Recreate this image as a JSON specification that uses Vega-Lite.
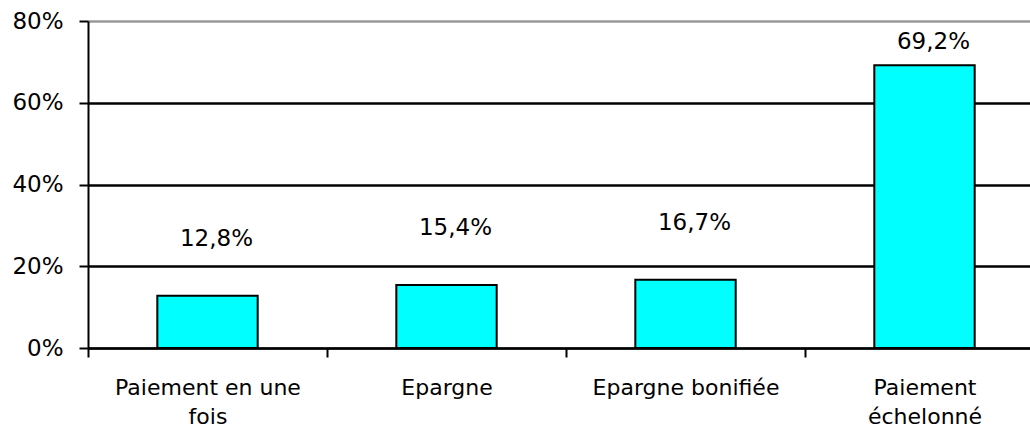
{
  "$schema": "https://vega.github.io/schema/vega-lite/v6.json",
  "autosize": "none",
  "width": 942,
  "height": 327,
  "padding": {"left": 88, "top": 21, "right": 0, "bottom": 84},
  "background": "white",
  "config": {
    "locale": {"number": {"decimal": ",", "thousands": " ", "grouping": [3], "currency": ["", " €"]}},
    "view": {"stroke": null},
    "font": "DejaVu Sans",
    "text": {"font": "DejaVu Sans"}
  },
  "data": {
    "values": [
      {"mode": "Paiement en une|fois", "value": 0.128},
      {"mode": "Epargne", "value": 0.154},
      {"mode": "Epargne bonifiée", "value": 0.167},
      {"mode": "Paiement|échelonné", "value": 0.692}
    ]
  },
  "encoding": {
    "x": {
      "field": "mode",
      "type": "nominal",
      "sort": null,
      "scale": {"range": [0, 956], "paddingInner": 0, "paddingOuter": 0},
      "axis": {
        "title": null,
        "labelAngle": 0,
        "labelExpr": "isValid(datum.value) ? split(datum.value, '|') : ''",
        "labelFont": "DejaVu Sans",
        "labelFontSize": 22,
        "labelColor": "black",
        "labelLineHeight": 29,
        "labelPadding": 20,
        "labelLimit": 0,
        "labelBaseline": "top",
        "tickBand": "extent",
        "tickSize": 9,
        "tickWidth": 2,
        "tickColor": "black",
        "domainColor": "black",
        "domainWidth": 2,
        "grid": false
      }
    },
    "y": {
      "field": "value",
      "type": "quantitative",
      "scale": {"domain": [0, 0.8], "nice": false},
      "axis": {
        "title": null,
        "format": ".0%",
        "values": [0, 0.2, 0.4, 0.6, 0.8],
        "labelFont": "DejaVu Sans",
        "labelFontSize": 23,
        "labelColor": "black",
        "labelPadding": 16,
        "tickSize": 9,
        "tickWidth": 2,
        "tickColor": "black",
        "domainColor": "black",
        "domainWidth": 2,
        "grid": true,
        "gridColor": {"condition": {"test": "datum.value >= 0.8", "value": "#999999"}, "value": "black"},
        "gridWidth": 2.5,
        "gridOpacity": 1
      }
    }
  },
  "layer": [
    {
      "mark": {"type": "bar", "fill": "#00FFFF", "stroke": "black", "strokeWidth": 2, "width": {"band": 0.42}}
    },
    {
      "transform": [{"filter": "datum.value < 0.5"}],
      "mark": {"type": "text", "dy": -57, "dx": 9, "fontSize": 23, "font": "DejaVu Sans", "color": "black", "baseline": "middle"},
      "encoding": {"text": {"field": "value", "type": "quantitative", "format": ".1%"}}
    },
    {
      "transform": [{"filter": "datum.value >= 0.5"}],
      "mark": {"type": "text", "dy": -23, "dx": 9, "fontSize": 23, "font": "DejaVu Sans", "color": "black", "baseline": "middle"},
      "encoding": {"text": {"field": "value", "type": "quantitative", "format": ".1%"}}
    }
  ]
}
